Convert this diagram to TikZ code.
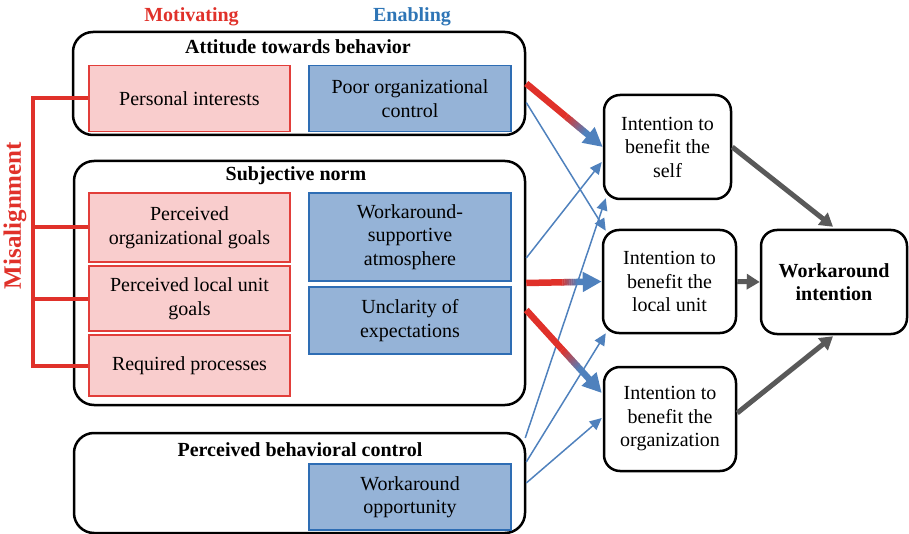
\documentclass[tikz,border=0pt]{standalone}
\usepackage{fontspec}
\setmainfont{Liberation Serif}
\usetikzlibrary{arrows.meta,calc}
\definecolor{redc}{HTML}{E0312A}
\definecolor{pinkfill}{HTML}{F9CDCD}
\definecolor{pinkline}{HTML}{E23E3A}
\definecolor{bluefill}{HTML}{95B3D7}
\definecolor{blueline}{HTML}{2E6DB4}
\definecolor{bluetxt}{HTML}{2E75B6}
\definecolor{arrowblue}{HTML}{4F81BD}
\definecolor{grayc}{HTML}{595959}
\tikzset{
 base/.style={font=\fontsize{20}{23.5}\selectfont, align=center, inner sep=0pt},
 group/.style={base, draw=black, line width=2.5pt, rounded corners=20pt},
 motbox/.style={base, draw=pinkline, fill=pinkfill, line width=1.8pt},
 enbox/.style={base, draw=blueline, fill=bluefill, line width=1.8pt},
 intbox/.style={base, draw=black, line width=2.5pt, rounded corners=16pt, fill=white},
 grouptitle/.style={font=\bfseries\fontsize{20}{23.5}\selectfont, inner sep=0pt},
 thinarrow/.style={draw=arrowblue, line width=1.5pt, -{Triangle[length=12pt,width=11pt]}},
 grayarrow/.style={draw=grayc, line width=5pt, -{Triangle[length=13pt,width=15pt]}},
 misline/.style={draw=redc, line width=4pt},
}
\newcommand\gradarrow[4]{%
 \draw[redc, line width=6.5pt] (#1) -- ($(#1)!#3!(#2)$);
 \foreach \i in {0,...,23}{%
   \pgfmathsetmacro\ta{#3+(#4-#3)*\i/24}%
   \pgfmathsetmacro\tb{#3+(#4-#3)*(\i+1.4)/24}%
   \pgfmathtruncatemacro\pc{100-100*\i/23}%
   \draw[line width=6.5pt, color=redc!\pc!arrowblue] ($(#1)!\ta!(#2)$) -- ($(#1)!\tb!(#2)$);
 }
 \draw[arrowblue, line width=6.5pt, -{Triangle[length=19pt,width=19pt]}] ($(#1)!#4!(#2)$) -- (#2);
}
\begin{document}
\begin{tikzpicture}[x=1pt,y=-1pt]
\useasboundingbox (0,0) rectangle (909,534);
% headers
\node[grouptitle, text=redc] (mot) at (191.5,17) {Motivating};
\node[grouptitle, text=bluetxt] (ena) at (412,17) {Enabling};
% group boxes
\node[group, minimum width=452pt, minimum height=103pt] (att) at (299,83.5) {};
\node[group, minimum width=451pt, minimum height=244pt] (sub) at (299.5,283) {};
\node[group, minimum width=451pt, minimum height=100pt] (pbc) at (299.5,483) {};
\node[grouptitle] (attt) at (298,47) {Attitude towards behavior};
\node[grouptitle] (subt) at (296,176) {Subjective norm};
\node[grouptitle] (pbct) at (300,450) {Perceived behavioral control};
% motivating boxes
\node[motbox, minimum width=201pt, minimum height=66pt] (pi) at (189.5,98.5) {Personal interests};
\node[motbox, minimum width=201pt, minimum height=69pt] (og) at (189.5,227.5) {Perceived\\organizational goals};
\node[motbox, minimum width=201pt, minimum height=65pt] (lg) at (189.5,298.5) {Perceived local unit\\goals};
\node[motbox, minimum width=201pt, minimum height=61pt] (req) at (189.5,365.5) {Required processes};
% enabling boxes
\node[enbox, minimum width=202pt, minimum height=66pt] (poc) at (410,98.5) {Poor organizational\\control};
\node[enbox, minimum width=202pt, minimum height=88pt] (wsa) at (410,237) {Workaround-\\supportive\\atmosphere};
\node[enbox, minimum width=202pt, minimum height=67pt] (uoe) at (410,320.5) {Unclarity of\\expectations};
\node[enbox, minimum width=202pt, minimum height=66pt] (wop) at (410,497) {Workaround\\opportunity};
% misalignment
\coordinate (mx) at (33,0);
\draw[misline] (pi.west) -- (pi.west -| mx) -- (req.west -| mx) -- (req.west);
\draw[misline] (og.west) -- (og.west -| mx);
\draw[misline] (lg.west) -- (lg.west -| mx);
\node[rotate=90, text=redc, font=\bfseries\fontsize{25}{28}\selectfont, inner sep=0pt] (mis) at (15,215.5) {Misalignment};
% intention boxes
\node[intbox, minimum width=127pt, minimum height=104pt] (self) at (667.5,147) {Intention to\\benefit the\\self};
\node[intbox, minimum width=133pt, minimum height=103pt] (local) at (669.5,281.5) {Intention to\\benefit the\\local unit};
\node[intbox, minimum width=132pt, minimum height=104pt] (org) at (670,419) {Intention to\\benefit the\\organization};
\node[intbox, minimum width=146pt, minimum height=104pt, font=\bfseries\fontsize{20}{23.5}\selectfont] (wi) at (834,282) {Workaround\\intention};
% thin blue arrows
\draw[thinarrow] ($(att.east)+(0,19)$) -- ($(local.north west)+(4,2)$);
\draw[thinarrow] ($(sub.east)+(0,-25)$) -- ($(self.west)+(-1,15)$);
\draw[thinarrow] ($(pbc.east)+(-1,-45)$) -- ($(self.south west)+(3,-2)$);
\draw[thinarrow] ($(pbc.east)+(0,-21)$) -- ($(local.south west)+(4,-1)$);
\draw[thinarrow] (pbc.east) -- ($(org.west)+(-1,-1)$);
% thick gradient arrows
\coordinate (t3a) at ($(sub.east)+(0,27)$);
\coordinate (t3b) at ($(org.west)+(-1,-26)$);
\gradarrow{att.east}{self.west}{0.52}{0.78}
\gradarrow{sub.east}{local.west}{0.46}{0.68}
\gradarrow{t3a}{t3b}{0.48}{0.72}
% gray arrows
\draw[grayarrow] (self.east) -- ($(wi.north)+(-1,-2)$);
\draw[grayarrow] (local.east) -- (wi.west);
\draw[grayarrow] ($(org.east)+(0,-6)$) -- ($(wi.south)+(-1,1)$);
\end{tikzpicture}
\end{document}
